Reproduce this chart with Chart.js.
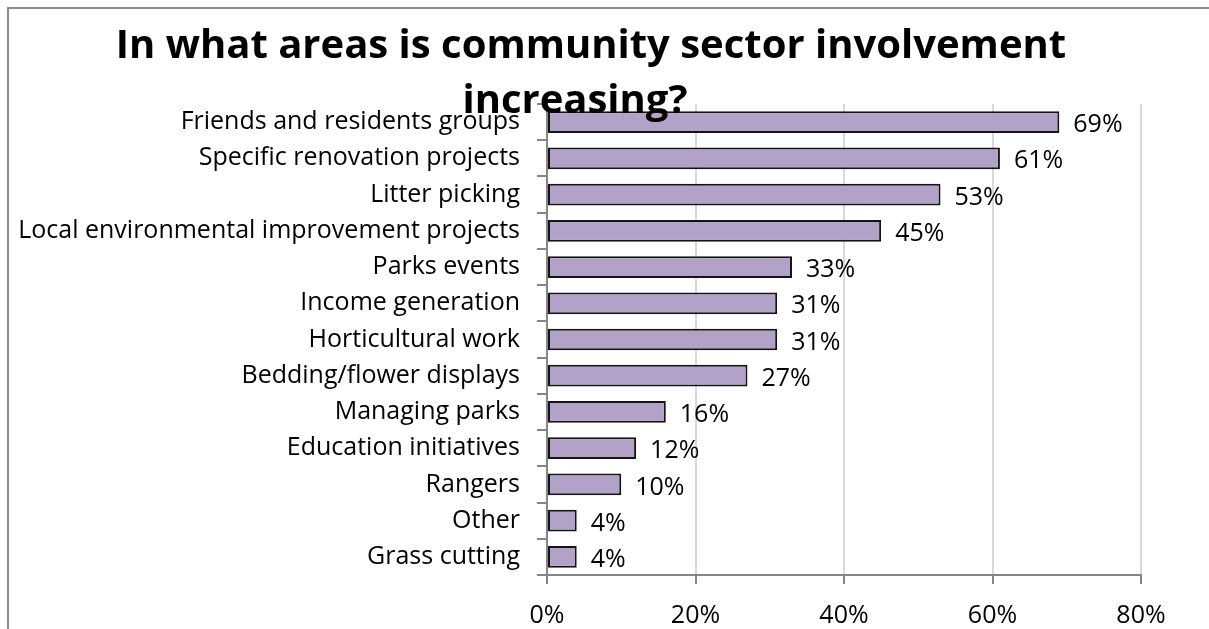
<!DOCTYPE html>
<html>
<head>
<meta charset="utf-8">
<script src="https://cdn.jsdelivr.net/npm/chart.js@4/dist/chart.umd.min.js"></script>
<style>
  body { margin: 0; background: #fff; overflow: hidden; }
  #wrap { position: relative; width: 1209px; height: 629px; overflow: hidden; }
  #frame { position: absolute; left: 7px; top: 7px; width: 1400px; height: 800px; border: 2px solid #8c8c8c; }
  #areas { position: absolute; left: 0; top: 0; }
</style>
</head>
<body>
<div id="wrap">
  <div id="frame"></div>
  <canvas id="areas" width="1209" height="629"></canvas>
</div>
<script>
// Areas where community sector involvement is increasing (% of respondents)
var areas = [
  'Friends and residents groups',
  'Specific renovation projects',
  'Litter picking',
  'Local environmental improvement projects',
  'Parks events',
  'Income generation',
  'Horticultural work',
  'Bedding/flower displays',
  'Managing parks',
  'Education initiatives',
  'Rangers',
  'Other',
  'Grass cutting'
];
var percentages = [69, 61, 53, 45, 33, 31, 31, 27, 16, 12, 10, 4, 4];
var axisTicks = [0, 20, 40, 60, 80];
var titleLines = ['In what areas is community sector involvement', 'increasing?'];

var fontFamily = "'Open Sans', 'Noto Sans', sans-serif";

// value labels at the end of each bar
var barLabels = {
  id: 'barLabels',
  afterDatasetsDraw: function (chart) {
    var ctx = chart.ctx;
    var meta = chart.getDatasetMeta(0);
    ctx.save();
    ctx.font = '25px ' + fontFamily;
    ctx.fillStyle = '#000';
    ctx.textAlign = 'left';
    ctx.textBaseline = 'middle';
    meta.data.forEach(function (bar, i) {
      ctx.fillText(percentages[i] + '%', bar.x + 14, bar.y + 3);
    });
    ctx.restore();
  }
};

// two-line bold title, drawn last so it sits over the top bar
var chartTitle = {
  id: 'chartTitle',
  afterDraw: function (chart) {
    var ctx = chart.ctx;
    ctx.save();
    ctx.font = 'bold 40px ' + fontFamily;
    ctx.fillStyle = '#000';
    ctx.textAlign = 'center';
    ctx.textBaseline = 'alphabetic';
    ctx.fillText(titleLines[0], 591, 58);
    ctx.fillText(titleLines[1], 575, 113);
    ctx.restore();
  }
};

var ctx = document.getElementById('areas').getContext('2d');
var areasChart = new Chart(ctx, {
  type: 'bar',
  data: {
    labels: areas,
    datasets: [{
      data: percentages,
      backgroundColor: '#b3a2c7',
      borderColor: '#141414',
      borderWidth: 2,
      borderSkipped: false,
      barPercentage: 0.6,
      categoryPercentage: 1
    }]
  },
  options: {
    indexAxis: 'y',
    responsive: false,
    animation: false,
    devicePixelRatio: 1,
    layout: { padding: { top: 104, right: 68, left: 0, bottom: 0 } },
    plugins: {
      legend: { display: false },
      tooltip: { enabled: false },
      title: { display: false }
    },
    scales: {
      x: {
        min: 0,
        max: 80,
        afterBuildTicks: function (scale) {
          scale.ticks = axisTicks.map(function (v) { return { value: v }; });
        },
        afterFit: function (scale) { scale.height = 54; },
        grid: { color: '#d9d9d9', lineWidth: 2, tickColor: '#868686', tickLength: 9 },
        border: { color: '#868686', width: 2 },
        ticks: {
          color: '#000',
          font: { family: fontFamily, size: 25 },
          padding: 17,
          callback: function (v) { return v + '%'; }
        }
      },
      y: {
        afterFit: function (scale) { scale.width = 547; },
        grid: { drawOnChartArea: false, tickColor: '#868686', tickLength: 10, lineWidth: 2 },
        border: { color: '#868686', width: 2 },
        ticks: {
          color: '#000',
          font: { family: fontFamily, size: 25 },
          padding: 17,
          autoSkip: false
        }
      }
    }
  },
  plugins: [barLabels, chartTitle]
});
</script>
</body>
</html>
